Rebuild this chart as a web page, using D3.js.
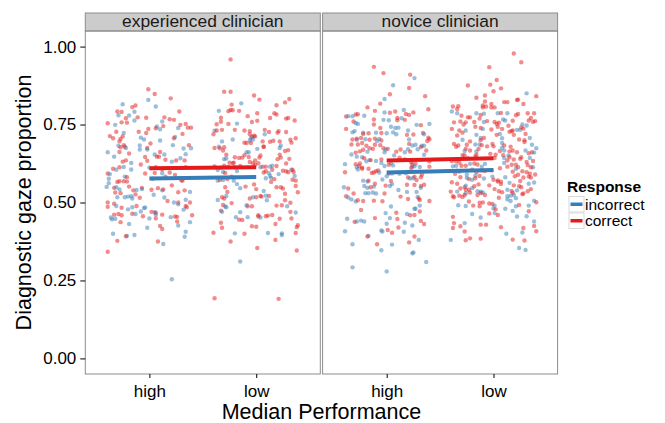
<!DOCTYPE html>
<html><head><meta charset="utf-8">
<script src="https://cdn.jsdelivr.net/npm/d3@7"></script>
<style>body{margin:0;background:#fff}svg{display:block;font-family:"Liberation Sans",Arial,Helvetica,sans-serif}</style>
</head><body><svg id="c" width="665" height="423"></svg>
<script>
// ---- data ----
const clinicians = ["experienced clinician", "novice clinician"];
const performance = ["high", "low"];
const responses = ["incorrect", "correct"];   // index used as 3rd element of point rows
const yTicks = [0, 0.25, 0.5, 0.75, 1.0];
// fitted line values [at high, at low] per clinician
const fitIncorrect = [[0.577, 0.582], [0.596, 0.604]];
const fitCorrect   = [[0.610, 0.613], [0.635, 0.642]];
// points: [jitter offset (category units), diagnostic gaze proportion, response index]
const expHigh = [[-0.01,0.863,1],[0.05,0.848,1],[-0.01,0.829,0],[0.20,0.834,1],[-0.25,0.815,0],[-0.13,0.811,1],[-0.16,0.806,1],[0.06,0.808,0],[-0.30,0.792,1],[-0.26,0.790,1],[-0.14,0.791,0],[0.28,0.792,1],[-0.29,0.780,0],[-0.19,0.779,0],[-0.22,0.770,1],[-0.11,0.773,1],[-0.03,0.772,1],[0.14,0.773,1],[0.19,0.767,1],[0.23,0.765,1],[-0.26,0.757,1],[-0.21,0.756,1],[-0.14,0.763,0],[0.12,0.760,0],[-0.39,0.754,1],[-0.32,0.749,0],[0.29,0.749,1],[0.34,0.752,1],[0.07,0.744,0],[0.06,0.738,1],[0.10,0.735,0],[0.13,0.745,1],[-0.01,0.736,1],[0.27,0.739,0],[0.36,0.740,1],[0.39,0.740,1],[-0.31,0.727,1],[-0.24,0.723,0],[-0.10,0.727,1],[-0.03,0.723,1],[0.31,0.720,1],[-0.37,0.713,1],[-0.34,0.706,1],[-0.25,0.712,1],[-0.27,0.704,1],[-0.08,0.708,0],[-0.05,0.702,0],[0.24,0.710,0],[0.23,0.706,1],[-0.28,0.696,1],[0.10,0.699,0],[0.01,0.689,1],[-0.29,0.682,0],[-0.27,0.677,1],[-0.24,0.684,1],[-0.23,0.679,1],[-0.22,0.675,0],[-0.09,0.683,0],[-0.02,0.675,1],[-0.02,0.670,0],[0.22,0.684,0],[0.37,0.684,1],[0.32,0.673,0],[0.39,0.674,0],[-0.09,0.670,0],[-0.28,0.662,1],[-0.19,0.657,1],[0.10,0.662,1],[-0.39,0.661,0],[-0.33,0.647,0],[-0.04,0.646,1],[0.05,0.654,0],[0.07,0.647,1],[0.09,0.647,1],[0.14,0.654,0],[0.34,0.655,0],[-0.22,0.635,1],[-0.25,0.631,1],[-0.02,0.634,1],[0.15,0.637,1],[0.25,0.635,1],[0.21,0.631,0],[0.29,0.642,0],[0.33,0.635,1],[-0.17,0.627,0],[-0.08,0.622,1],[-0.28,0.613,1],[-0.24,0.614,0],[0.00,0.612,0],[0.06,0.613,1],[-0.34,0.608,1],[-0.31,0.605,0],[-0.17,0.606,0],[0.12,0.606,1],[0.30,0.611,1],[0.34,0.613,1],[-0.39,0.593,1],[-0.37,0.591,0],[-0.04,0.593,1],[0.05,0.595,1],[0.12,0.594,0],[0.15,0.583,1],[0.19,0.596,1],[0.24,0.588,1],[0.28,0.579,0],[0.30,0.571,1],[0.31,0.570,1],[-0.23,0.583,0],[-0.21,0.581,1],[-0.38,0.576,0],[-0.38,0.562,0],[-0.30,0.566,1],[-0.28,0.568,1],[-0.24,0.568,1],[-0.21,0.567,1],[0.03,0.576,0],[-0.19,0.551,1],[-0.40,0.550,0],[-0.33,0.547,1],[-0.31,0.549,0],[-0.28,0.542,0],[-0.15,0.539,1],[-0.12,0.540,0],[-0.07,0.547,1],[-0.07,0.543,0],[0.02,0.541,1],[0.08,0.546,1],[0.12,0.539,0],[0.13,0.542,1],[0.21,0.555,1],[0.27,0.533,1],[0.33,0.539,1],[0.38,0.534,0],[-0.32,0.532,1],[-0.27,0.530,1],[-0.30,0.517,0],[-0.23,0.517,0],[-0.20,0.519,0],[-0.17,0.520,0],[-0.13,0.526,1],[-0.16,0.513,0],[-0.09,0.515,1],[0.04,0.525,0],[0.14,0.516,0],[0.17,0.505,1],[0.23,0.500,0],[0.27,0.500,1],[0.27,0.494,0],[0.34,0.509,0],[0.38,0.500,1],[0.34,0.489,1],[-0.39,0.500,1],[-0.39,0.486,1],[-0.33,0.496,1],[-0.31,0.489,0],[-0.20,0.478,0],[-0.16,0.485,0],[-0.12,0.489,1],[-0.04,0.484,0],[-0.05,0.482,0],[-0.26,0.483,1],[-0.08,0.471,0],[0.02,0.470,1],[0.05,0.469,0],[0.06,0.467,1],[0.06,0.461,0],[0.32,0.477,0],[0.35,0.485,1],[-0.33,0.461,1],[-0.29,0.463,1],[-0.26,0.459,1],[-0.16,0.464,1],[-0.13,0.463,0],[-0.06,0.456,1],[0.00,0.449,0],[0.06,0.449,1],[0.12,0.461,1],[0.20,0.453,0],[0.24,0.455,1],[0.26,0.454,1],[0.26,0.439,1],[0.40,0.459,1],[-0.36,0.452,0],[-0.35,0.446,0],[-0.32,0.448,0],[-0.27,0.437,1],[0.27,0.426,0],[0.38,0.437,0],[-0.19,0.431,0],[-0.02,0.419,0],[0.10,0.425,1],[0.12,0.415,1],[0.34,0.406,0],[0.33,0.390,0],[-0.34,0.400,0],[-0.21,0.393,0],[-0.14,0.396,0],[-0.22,0.392,1],[-0.30,0.377,1],[0.08,0.375,1],[0.13,0.367,0],[-0.39,0.342,1],[0.21,0.254,0]];
const expLow = [[-0.24,0.959,1],[-0.30,0.855,1],[-0.24,0.855,1],[-0.02,0.843,1],[0.03,0.830,1],[-0.14,0.818,0],[-0.23,0.814,1],[0.27,0.821,1],[0.31,0.832,1],[0.19,0.812,1],[-0.35,0.794,0],[-0.26,0.793,1],[-0.24,0.797,1],[-0.22,0.796,1],[-0.16,0.794,1],[0.01,0.786,1],[0.17,0.786,1],[0.19,0.782,1],[0.30,0.771,1],[0.28,0.769,1],[-0.33,0.772,1],[-0.33,0.759,1],[-0.08,0.777,1],[0.13,0.771,1],[-0.37,0.751,1],[-0.18,0.753,0],[-0.26,0.752,1],[-0.04,0.758,1],[0.01,0.762,1],[0.36,0.763,1],[-0.39,0.730,0],[-0.40,0.719,1],[-0.32,0.733,1],[-0.37,0.731,1],[-0.20,0.733,1],[-0.11,0.731,1],[-0.06,0.729,1],[-0.06,0.719,1],[-0.02,0.714,1],[-0.01,0.712,1],[-0.04,0.711,1],[0.08,0.733,1],[0.08,0.719,0],[0.12,0.726,1],[0.21,0.729,1],[0.20,0.724,1],[0.28,0.726,1],[-0.05,0.706,0],[-0.03,0.702,0],[-0.06,0.699,0],[-0.32,0.696,0],[-0.22,0.702,0],[0.06,0.696,1],[-0.11,0.692,1],[-0.09,0.691,1],[-0.05,0.691,1],[0.07,0.679,1],[0.13,0.695,1],[0.16,0.698,1],[0.22,0.696,1],[0.32,0.701,1],[0.33,0.692,1],[0.37,0.706,1],[-0.39,0.675,1],[-0.35,0.679,0],[-0.34,0.674,1],[-0.30,0.677,1],[-0.31,0.667,1],[0.01,0.672,0],[0.07,0.679,1],[0.23,0.683,0],[0.22,0.675,0],[0.27,0.665,1],[0.30,0.668,1],[-0.09,0.661,0],[-0.07,0.661,0],[-0.28,0.653,1],[-0.16,0.643,1],[-0.13,0.644,1],[-0.07,0.646,1],[-0.11,0.652,1],[0.04,0.651,1],[0.03,0.644,1],[0.22,0.653,1],[0.23,0.644,1],[0.20,0.639,1],[-0.30,0.639,0],[-0.28,0.641,0],[-0.20,0.645,1],[0.31,0.640,1],[-0.01,0.635,1],[-0.06,0.630,1],[-0.03,0.626,1],[0.02,0.626,1],[-0.01,0.621,1],[-0.25,0.628,1],[-0.22,0.626,1],[-0.21,0.628,1],[-0.39,0.616,1],[-0.33,0.612,1],[-0.30,0.618,1],[-0.26,0.615,1],[-0.15,0.617,1],[0.06,0.615,1],[0.09,0.615,1],[0.04,0.613,0],[0.13,0.615,0],[0.15,0.618,0],[0.19,0.617,1],[0.28,0.625,1],[-0.36,0.604,0],[-0.31,0.598,0],[-0.29,0.595,1],[-0.18,0.601,0],[-0.20,0.614,0],[0.07,0.596,1],[0.09,0.600,1],[0.12,0.594,0],[0.15,0.605,1],[0.21,0.591,0],[0.25,0.602,1],[0.28,0.600,1],[0.30,0.597,1],[0.33,0.605,0],[0.34,0.605,1],[0.35,0.598,1],[0.36,0.585,0],[-0.23,0.583,1],[-0.21,0.570,0],[-0.27,0.575,1],[-0.31,0.572,0],[-0.36,0.570,0],[-0.34,0.573,1],[0.09,0.578,0],[0.14,0.579,0],[0.14,0.566,1],[0.17,0.575,1],[0.13,0.585,0],[0.37,0.570,1],[0.34,0.573,1],[-0.18,0.559,0],[-0.29,0.549,1],[-0.15,0.546,0],[-0.10,0.551,1],[-0.02,0.558,1],[0.00,0.543,1],[0.07,0.537,0],[0.23,0.549,1],[0.25,0.545,1],[0.19,0.549,1],[0.37,0.553,1],[-0.27,0.534,1],[0.27,0.528,1],[0.39,0.533,1],[0.09,0.522,0],[0.12,0.521,1],[0.04,0.521,1],[0.05,0.519,1],[0.00,0.517,1],[-0.06,0.513,1],[-0.03,0.517,0],[-0.32,0.517,1],[-0.28,0.521,0],[-0.30,0.513,1],[-0.36,0.508,0],[0.10,0.507,0],[0.27,0.507,1],[0.19,0.490,1],[0.24,0.491,1],[0.29,0.488,0],[0.32,0.499,1],[-0.31,0.492,1],[-0.23,0.498,1],[-0.29,0.487,0],[-0.28,0.485,0],[-0.08,0.488,1],[-0.04,0.488,1],[-0.09,0.491,0],[-0.33,0.474,1],[-0.32,0.470,0],[0.32,0.470,1],[0.37,0.468,0],[-0.15,0.469,0],[-0.19,0.453,0],[-0.08,0.453,0],[0.02,0.459,1],[0.02,0.455,1],[0.04,0.452,0],[0.09,0.456,1],[0.11,0.458,1],[0.15,0.460,1],[-0.16,0.445,1],[-0.13,0.444,1],[0.22,0.448,1],[0.33,0.449,1],[-0.33,0.435,1],[-0.32,0.419,1],[0.18,0.431,1],[-0.04,0.424,1],[0.00,0.422,1],[0.39,0.427,1],[0.38,0.421,1],[-0.40,0.403,1],[-0.20,0.401,0],[-0.11,0.400,1],[0.11,0.402,0],[0.24,0.401,0],[0.24,0.396,0],[0.37,0.402,1],[-0.24,0.375,1],[0.18,0.380,1],[0.01,0.354,1],[0.38,0.346,1],[-0.15,0.311,0],[-0.39,0.193,1],[0.21,0.191,1]];
const novHigh = [[-0.12,0.935,1],[-0.03,0.915,1],[0.22,0.910,1],[0.26,0.899,0],[0.06,0.876,0],[0.21,0.867,1],[0.03,0.847,1],[-0.02,0.832,0],[0.36,0.841,1],[-0.06,0.817,1],[-0.18,0.805,1],[0.39,0.799,1],[0.16,0.797,0],[-0.11,0.794,1],[-0.02,0.789,0],[0.03,0.788,1],[0.08,0.792,1],[0.18,0.784,1],[0.21,0.781,1],[0.25,0.789,1],[-0.27,0.783,1],[-0.29,0.782,1],[-0.38,0.776,1],[-0.36,0.777,0],[-0.32,0.777,0],[-0.21,0.778,0],[-0.12,0.766,1],[-0.03,0.765,0],[0.02,0.764,0],[0.10,0.771,1],[0.10,0.764,1],[0.14,0.770,0],[0.17,0.765,1],[-0.31,0.760,1],[-0.29,0.755,0],[-0.27,0.752,0],[-0.12,0.750,1],[0.04,0.743,0],[0.08,0.739,0],[0.11,0.740,0],[0.28,0.749,0],[0.32,0.748,1],[0.40,0.752,0],[-0.38,0.736,1],[-0.30,0.729,0],[-0.32,0.725,0],[-0.22,0.724,0],[-0.22,0.720,1],[-0.06,0.739,1],[-0.10,0.724,0],[-0.17,0.722,1],[-0.05,0.723,1],[0.00,0.722,0],[0.06,0.725,0],[0.09,0.719,0],[0.20,0.731,0],[0.19,0.717,1],[0.25,0.718,1],[0.34,0.723,1],[0.35,0.719,0],[0.39,0.708,1],[0.40,0.703,1],[0.38,0.697,1],[-0.32,0.702,1],[-0.28,0.701,0],[-0.28,0.705,1],[-0.24,0.707,1],[-0.20,0.703,0],[-0.16,0.701,1],[-0.11,0.705,1],[-0.07,0.704,0],[-0.05,0.699,1],[-0.09,0.697,0],[-0.11,0.685,1],[-0.06,0.684,1],[0.21,0.702,0],[0.21,0.688,1],[0.24,0.683,0],[0.27,0.685,0],[0.33,0.682,0],[0.32,0.678,1],[0.35,0.682,0],[0.29,0.671,0],[-0.33,0.686,1],[-0.27,0.686,1],[-0.23,0.691,1],[-0.19,0.682,1],[-0.16,0.674,1],[-0.13,0.672,1],[-0.22,0.669,1],[-0.18,0.663,0],[-0.25,0.664,1],[-0.29,0.660,1],[-0.33,0.654,0],[-0.03,0.674,1],[-0.01,0.670,0],[0.01,0.672,1],[-0.02,0.661,0],[0.13,0.670,1],[0.17,0.661,0],[0.20,0.671,0],[0.22,0.663,1],[0.37,0.667,1],[0.09,0.663,1],[-0.28,0.647,0],[-0.23,0.645,0],[-0.21,0.642,1],[-0.19,0.632,0],[-0.16,0.636,0],[-0.15,0.636,1],[-0.05,0.638,1],[-0.10,0.633,0],[0.07,0.651,0],[0.12,0.644,1],[0.17,0.638,1],[0.35,0.653,0],[-0.29,0.623,1],[-0.25,0.625,1],[-0.26,0.617,1],[-0.28,0.613,0],[-0.23,0.612,1],[-0.27,0.606,0],[-0.05,0.627,0],[-0.02,0.617,0],[0.04,0.626,0],[0.06,0.619,0],[0.02,0.621,1],[0.23,0.629,1],[0.24,0.622,1],[0.27,0.624,1],[0.26,0.616,0],[0.24,0.615,0],[0.23,0.611,1],[0.31,0.614,0],[0.40,0.615,1],[0.40,0.632,1],[-0.39,0.623,0],[-0.39,0.597,1],[-0.23,0.608,1],[-0.17,0.608,1],[-0.14,0.595,1],[-0.12,0.596,1],[-0.10,0.600,1],[-0.08,0.603,1],[-0.07,0.596,0],[0.02,0.593,1],[0.00,0.584,0],[0.05,0.593,0],[0.12,0.592,0],[0.18,0.594,0],[0.20,0.580,1],[0.22,0.577,0],[0.25,0.578,0],[0.26,0.583,1],[0.33,0.589,1],[0.32,0.581,1],[0.28,0.572,1],[-0.22,0.570,0],[-0.18,0.567,0],[-0.17,0.570,1],[-0.11,0.560,1],[-0.12,0.551,0],[-0.04,0.574,0],[0.04,0.569,1],[-0.40,0.549,0],[-0.36,0.545,1],[-0.21,0.553,0],[-0.18,0.547,0],[-0.15,0.549,1],[-0.01,0.554,1],[0.03,0.553,0],[0.05,0.559,0],[0.19,0.557,1],[0.26,0.556,1],[0.32,0.553,1],[0.32,0.547,0],[0.35,0.557,1],[-0.38,0.520,1],[-0.36,0.516,0],[-0.31,0.529,1],[-0.33,0.510,0],[-0.29,0.503,0],[-0.27,0.507,1],[-0.22,0.505,1],[-0.20,0.530,0],[-0.17,0.530,0],[-0.13,0.532,0],[-0.10,0.529,0],[-0.02,0.529,1],[0.11,0.540,0],[0.19,0.534,0],[0.13,0.519,1],[0.20,0.511,1],[0.28,0.534,0],[0.29,0.518,0],[0.30,0.513,1],[0.31,0.508,1],[0.40,0.505,1],[-0.12,0.506,1],[-0.04,0.504,1],[0.04,0.487,0],[0.31,0.490,0],[0.26,0.480,0],[0.27,0.480,0],[-0.24,0.476,1],[-0.01,0.466,0],[0.09,0.467,1],[0.22,0.459,1],[0.26,0.460,1],[0.31,0.471,1],[0.03,0.450,0],[0.19,0.463,0],[-0.37,0.448,0],[-0.30,0.438,1],[-0.24,0.442,0],[-0.21,0.439,0],[-0.28,0.439,0],[-0.11,0.450,1],[0.10,0.447,1],[0.00,0.432,0],[0.17,0.435,0],[0.24,0.426,0],[0.32,0.441,1],[0.35,0.431,1],[0.11,0.420,1],[-0.05,0.410,0],[-0.04,0.407,0],[0.01,0.412,1],[0.05,0.403,1],[0.16,0.406,0],[-0.39,0.408,0],[-0.17,0.393,0],[-0.18,0.391,1],[0.26,0.391,1],[0.30,0.380,0],[0.21,0.372,1],[-0.32,0.366,0],[-0.09,0.366,1],[0.05,0.365,0],[-0.05,0.347,0],[0.25,0.340,0],[0.24,0.337,0],[0.37,0.309,0],[-0.32,0.292,0],[0.00,0.279,0]];
const novLow = [[0.19,0.978,1],[0.26,0.950,1],[-0.04,0.934,1],[0.03,0.893,1],[-0.03,0.878,1],[0.07,0.866,1],[-0.24,0.875,1],[0.00,0.857,1],[-0.08,0.843,1],[0.40,0.841,1],[0.31,0.850,0],[-0.16,0.836,1],[-0.02,0.816,1],[-0.08,0.824,1],[-0.10,0.811,1],[0.23,0.830,1],[0.22,0.829,1],[0.10,0.822,1],[0.13,0.822,1],[0.28,0.816,1],[-0.38,0.808,1],[-0.33,0.809,1],[-0.39,0.792,0],[-0.34,0.786,0],[-0.34,0.800,1],[-0.10,0.805,1],[-0.07,0.808,1],[-0.02,0.805,1],[0.01,0.805,1],[-0.16,0.786,0],[-0.09,0.785,0],[-0.12,0.781,1],[0.04,0.786,0],[0.07,0.787,1],[0.13,0.786,0],[0.23,0.784,1],[0.21,0.780,1],[0.32,0.786,1],[0.38,0.786,1],[0.35,0.771,1],[0.37,0.759,1],[-0.30,0.778,1],[-0.24,0.773,1],[-0.22,0.773,1],[-0.13,0.769,1],[-0.37,0.757,1],[-0.31,0.760,1],[-0.26,0.757,1],[-0.28,0.750,1],[-0.06,0.761,1],[-0.09,0.758,0],[0.09,0.766,0],[0.11,0.763,0],[0.05,0.756,1],[0.03,0.752,1],[0.01,0.758,1],[0.18,0.762,1],[0.27,0.750,0],[0.33,0.763,1],[0.39,0.761,1],[0.31,0.747,0],[-0.18,0.758,1],[-0.17,0.743,1],[-0.32,0.731,1],[-0.29,0.724,1],[-0.26,0.731,0],[-0.12,0.739,1],[-0.10,0.736,0],[-0.02,0.734,1],[0.04,0.743,1],[0.08,0.736,1],[0.14,0.746,1],[0.22,0.733,0],[0.25,0.733,0],[0.26,0.741,1],[0.28,0.737,1],[0.15,0.727,1],[0.17,0.729,1],[0.18,0.731,1],[-0.39,0.736,1],[0.30,0.720,1],[-0.34,0.715,1],[-0.29,0.701,0],[-0.16,0.717,0],[-0.12,0.707,0],[-0.09,0.707,1],[-0.12,0.700,1],[-0.22,0.696,1],[0.03,0.717,1],[0.06,0.720,0],[0.08,0.706,0],[0.08,0.691,0],[0.19,0.717,1],[0.24,0.702,1],[0.34,0.707,0],[-0.37,0.688,1],[-0.35,0.679,1],[-0.33,0.683,1],[-0.25,0.685,1],[-0.17,0.686,0],[-0.13,0.686,0],[-0.11,0.684,1],[-0.06,0.680,1],[-0.01,0.688,1],[0.00,0.680,1],[0.10,0.683,1],[0.16,0.679,1],[0.29,0.700,1],[0.29,0.694,1],[0.36,0.685,0],[0.40,0.674,0],[-0.26,0.672,1],[-0.27,0.665,0],[-0.22,0.667,1],[-0.16,0.664,0],[-0.14,0.672,1],[0.08,0.676,0],[0.10,0.667,0],[0.06,0.665,1],[0.18,0.667,1],[0.22,0.661,1],[0.15,0.664,1],[0.33,0.658,1],[0.36,0.661,1],[0.38,0.660,0],[0.30,0.667,0],[-0.29,0.652,1],[-0.27,0.651,1],[-0.24,0.642,1],[-0.17,0.648,1],[-0.16,0.653,1],[-0.03,0.656,1],[0.01,0.643,1],[0.02,0.653,1],[0.09,0.652,1],[0.10,0.643,0],[0.14,0.651,0],[0.15,0.645,1],[0.19,0.638,1],[0.25,0.640,1],[0.26,0.645,1],[0.34,0.643,0],[0.31,0.630,1],[0.37,0.633,1],[-0.39,0.633,1],[-0.35,0.632,1],[-0.32,0.628,1],[-0.38,0.616,0],[-0.35,0.618,0],[-0.30,0.618,1],[-0.26,0.618,1],[-0.22,0.624,0],[-0.18,0.625,1],[-0.15,0.622,1],[-0.11,0.615,0],[-0.08,0.624,0],[0.10,0.627,0],[0.13,0.635,1],[0.13,0.615,1],[0.17,0.621,1],[0.21,0.621,1],[0.23,0.613,1],[0.21,0.608,0],[0.32,0.620,1],[0.37,0.613,0],[0.35,0.613,1],[-0.34,0.602,0],[-0.36,0.592,1],[-0.32,0.599,1],[-0.20,0.605,1],[-0.16,0.597,1],[-0.11,0.603,1],[-0.08,0.601,1],[-0.02,0.603,1],[0.06,0.610,1],[0.18,0.599,1],[0.27,0.600,1],[0.31,0.597,1],[0.34,0.592,1],[0.39,0.590,1],[-0.25,0.590,0],[-0.17,0.586,0],[-0.13,0.585,1],[-0.31,0.581,1],[-0.25,0.579,0],[-0.23,0.575,1],[-0.20,0.573,0],[-0.17,0.578,1],[-0.09,0.577,0],[-0.01,0.583,0],[0.00,0.573,1],[0.04,0.571,1],[0.07,0.567,1],[0.11,0.581,0],[0.20,0.584,1],[0.23,0.589,1],[0.28,0.580,1],[0.25,0.569,1],[0.33,0.583,1],[0.35,0.580,1],[0.38,0.564,0],[-0.39,0.565,1],[-0.34,0.560,1],[-0.31,0.545,1],[-0.27,0.549,1],[-0.26,0.541,1],[-0.23,0.541,1],[-0.26,0.554,0],[-0.20,0.546,0],[-0.18,0.552,1],[-0.14,0.558,1],[-0.04,0.555,1],[0.04,0.567,1],[0.07,0.559,1],[0.15,0.563,0],[0.19,0.555,1],[0.24,0.552,1],[0.26,0.549,1],[0.33,0.560,0],[-0.40,0.535,1],[-0.34,0.535,0],[-0.26,0.530,0],[-0.22,0.532,1],[-0.15,0.536,0],[-0.12,0.535,0],[-0.10,0.532,0],[0.01,0.543,1],[0.05,0.536,1],[0.08,0.533,1],[0.13,0.541,0],[0.17,0.537,1],[0.18,0.531,1],[0.22,0.539,0],[0.27,0.527,1],[0.28,0.529,1],[0.32,0.536,1],[0.35,0.543,1],[-0.38,0.520,1],[-0.37,0.517,1],[-0.32,0.522,1],[-0.29,0.518,1],[-0.27,0.524,1],[-0.15,0.524,1],[-0.12,0.530,1],[-0.08,0.524,1],[0.05,0.515,1],[0.13,0.520,0],[0.16,0.522,0],[0.19,0.524,0],[0.21,0.514,0],[0.13,0.510,0],[0.16,0.505,0],[-0.23,0.503,1],[-0.13,0.499,1],[-0.10,0.500,1],[-0.04,0.497,1],[-0.01,0.495,1],[0.01,0.490,0],[-0.33,0.491,0],[-0.26,0.489,0],[-0.19,0.490,1],[-0.13,0.488,1],[0.00,0.481,0],[0.02,0.478,1],[0.11,0.480,0],[0.18,0.473,0],[0.21,0.488,0],[0.24,0.492,1],[0.33,0.490,0],[0.40,0.501,1],[0.38,0.506,0],[-0.38,0.454,1],[-0.37,0.434,1],[-0.20,0.463,0],[-0.12,0.452,0],[-0.04,0.465,1],[0.01,0.466,0],[0.04,0.460,1],[0.22,0.455,0],[0.31,0.456,0],[0.33,0.472,1],[-0.12,0.429,1],[-0.07,0.429,1],[-0.27,0.434,0],[-0.31,0.424,1],[-0.38,0.418,1],[0.07,0.421,1],[0.38,0.439,0],[0.38,0.425,1],[0.40,0.408,1],[0.28,0.418,1],[0.27,0.404,0],[-0.27,0.407,1],[-0.22,0.385,1],[-0.26,0.379,1],[-0.40,0.380,0],[-0.12,0.384,1],[0.12,0.400,0],[0.18,0.381,1],[0.29,0.378,1],[0.24,0.354,0],[0.30,0.348,0]];
const pointGroups = [[expHigh, expLow], [novHigh, novLow]];

// ---- layout / styles ----
const colors = ["#377EB8", "#E41A1C"];
const panelW = 235, panelTop = 31, panelBottom = 374, stripTop = 13;
const panelLefts = [85.3, 322.6];
const FONT = "'Liberation Sans', Arial, sans-serif";
const svg = d3.select("#c");
svg.append("rect").attr("width", 665).attr("height", 423).attr("fill", "#fff");

const y = d3.scaleLinear().domain([-0.05, 1.05]).range([panelBottom, panelTop]);

clinicians.forEach((clin, ci) => {
  const left = panelLefts[ci];
  const x = d3.scalePoint().domain(performance).range([left, left + panelW]).padding(0.6);
  const step = x.step();
  const g = svg.append("g");
  g.append("rect").attr("x", left).attr("y", panelTop).attr("width", panelW)
    .attr("height", panelBottom - panelTop).attr("fill", "#fff");
  // strip
  g.append("rect").attr("x", left).attr("y", stripTop).attr("width", panelW)
    .attr("height", panelTop - stripTop).attr("fill", "#CCCCCC")
    .attr("stroke", "#8c8c8c").attr("stroke-width", 1);
  g.append("text").attr("x", left + panelW / 2).attr("y", panelTop - 4.5)
    .attr("text-anchor", "middle").attr("font-size", 17.4).attr("fill", "#1a1a1a").text(clin);
  // points
  performance.forEach((p, pi) => {
    g.append("g").selectAll("circle").data(pointGroups[ci][pi]).join("circle")
      .attr("cx", d => x(p) + d[0] * step)
      .attr("cy", d => y(d[1]))
      .attr("r", 2.2)
      .attr("fill", d => colors[d[2]])
      .attr("fill-opacity", 0.5);
  });
  // fitted lines
  [[fitIncorrect, 0], [fitCorrect, 1]].forEach(([fit, ri]) => {
    g.append("line")
      .attr("x1", x(performance[0])).attr("x2", x(performance[1]))
      .attr("y1", y(fit[ci][0])).attr("y2", y(fit[ci][1]))
      .attr("stroke", colors[ri]).attr("stroke-width", 4);
  });
  // panel border
  g.append("rect").attr("x", left).attr("y", panelTop).attr("width", panelW)
    .attr("height", panelBottom - panelTop).attr("fill", "none")
    .attr("stroke", "#8c8c8c").attr("stroke-width", 1);
  // x axis
  const xa = svg.append("g").attr("transform", `translate(0,${panelBottom})`)
    .call(d3.axisBottom(x).tickSize(4).tickPadding(6.5));
  xa.select(".domain").remove();
  xa.selectAll("line").attr("stroke", "#000");
  xa.selectAll("text").attr("font-size", 17).attr("fill", "#000").attr("font-family", FONT);
});

// y axis
const ya = svg.append("g").attr("transform", `translate(${panelLefts[0]},0)`)
  .call(d3.axisLeft(y).tickValues(yTicks).tickFormat(d3.format(".2f")).tickSize(5).tickPadding(4));
ya.select(".domain").remove();
ya.selectAll("line").attr("stroke", "#000");
ya.selectAll("text").attr("font-size", 17).attr("fill", "#000").attr("font-family", FONT);

// axis titles
svg.append("text").attr("x", (panelLefts[0] + panelLefts[1] + panelW) / 2).attr("y", 419)
  .attr("text-anchor", "middle").attr("font-size", 21.5).attr("fill", "#000").text("Median Performance");
svg.append("text").attr("transform", `translate(30.5,${(panelTop + panelBottom) / 2}) rotate(-90)`)
  .attr("text-anchor", "middle").attr("font-size", 21.5).attr("fill", "#000").text("Diagnostic gaze proportion");

// legend
const lg = svg.append("g");
lg.append("text").attr("x", 567).attr("y", 191.5).attr("font-size", 15.5).attr("font-weight", "bold")
  .attr("fill", "#000").text("Response");
responses.forEach((r, i) => {
  const ky = 196.5 + i * 16.5;
  lg.append("rect").attr("x", 569).attr("y", ky).attr("width", 15).attr("height", 15.5)
    .attr("fill", "#fff").attr("stroke", "#d9d9d9").attr("stroke-width", 1);
  lg.append("line").attr("x1", 570.5).attr("x2", 582.5).attr("y1", ky + 7.75).attr("y2", ky + 7.75)
    .attr("stroke", colors[i]).attr("stroke-width", 3.5);
  lg.append("text").attr("x", 585).attr("y", ky + 13.2).attr("font-size", 15.5).attr("fill", "#000").text(r);
});
</script></body></html>
